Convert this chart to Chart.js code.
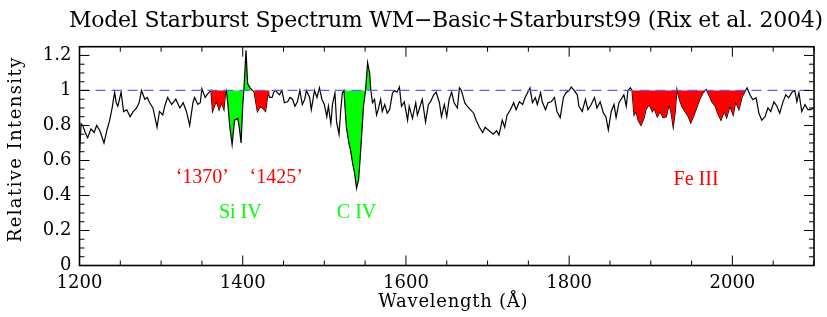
<!DOCTYPE html>
<html>
<head>
<meta charset="utf-8">
<script src="https://cdn.jsdelivr.net/npm/chart.js@4.4.1/dist/chart.umd.min.js"></script>
<style>
  html, body { margin: 0; padding: 0; background: #fff; }
  canvas { display: block; }
</style>
</head>
<body>
<canvas id="spec" width="827" height="317"></canvas>
<script>
// axis ranges + labelled ticks
const xMin = 1200, xMax = 2100;
const yMin = 0, yMax = 1.25;
const xTickLabels = [1200, 1400, 1600, 1800, 2000];
const yTickLabels = [0, 0.2, 0.4, 0.6, 0.8, 1, 1.2];
const continuumLevel = 1;

// spectrum: wavelength (Å) and relative intensity
const wavelength = [
  1200, 1202, 1204, 1207, 1210, 1214, 1218, 1221, 1225, 1230,
  1234, 1237, 1240, 1243, 1245, 1247, 1251, 1254, 1258, 1262,
  1266, 1270, 1273, 1276, 1280, 1283, 1286, 1290, 1295, 1298,
  1302, 1305, 1308, 1313, 1318, 1323, 1327, 1331, 1335, 1339,
  1341, 1345, 1348, 1350, 1354, 1357, 1361, 1363, 1366, 1368,
  1371, 1374, 1377, 1379, 1380, 1382, 1384, 1387, 1390, 1394,
  1396, 1398, 1400, 1402, 1404, 1406, 1409, 1412, 1414, 1416,
  1418, 1422, 1424, 1426, 1428, 1431, 1433, 1436, 1438, 1440,
  1443, 1445, 1448, 1451, 1455, 1458, 1461, 1464, 1467, 1470,
  1473, 1476, 1478, 1482, 1484, 1488, 1491, 1494, 1497, 1500,
  1503, 1505, 1508, 1510, 1513, 1515, 1518, 1520, 1522, 1524,
  1525, 1527, 1530, 1532, 1535, 1537, 1539.5, 1542, 1544, 1546,
  1548, 1550.5, 1553, 1555.5, 1557, 1559, 1561.5, 1564, 1566, 1569,
  1571, 1574, 1577, 1580, 1583.5, 1586, 1589, 1592, 1594.5, 1598,
  1602, 1604, 1608, 1612, 1614, 1618, 1620, 1624, 1627.5, 1630,
  1634, 1637, 1641, 1643.5, 1647, 1650, 1653, 1656, 1659, 1663,
  1665.5, 1668, 1672, 1675, 1679, 1683, 1686, 1690, 1694, 1697,
  1702, 1707, 1711, 1714, 1718, 1721, 1724, 1728, 1732, 1735,
  1739, 1743, 1746, 1749, 1752, 1755, 1758.5, 1761, 1765, 1767,
  1771, 1774, 1778, 1782, 1785, 1789, 1793, 1796, 1800, 1802.5,
  1806, 1810, 1812, 1816, 1820, 1823, 1827, 1831, 1834, 1838,
  1842, 1845, 1848, 1851.5, 1855, 1857.5, 1861, 1865, 1867, 1870,
  1872, 1875, 1877, 1879.5, 1882, 1884.5, 1888, 1892, 1894, 1898,
  1902, 1904, 1908, 1911.5, 1915, 1919, 1922.5, 1925, 1927.5, 1930,
  1932, 1935, 1938, 1942, 1946, 1949, 1953, 1957, 1960, 1964,
  1968, 1971, 1975, 1979, 1982, 1986, 1990, 1993, 1997, 2001,
  2004, 2008, 2012, 2015, 2018, 2021.5, 2025, 2029, 2032.5, 2036,
  2040, 2043.5, 2047, 2051, 2054.5, 2058, 2062, 2065.5, 2069, 2073,
  2076.5, 2079, 2081.5, 2085, 2089, 2092.5, 2096, 2099
];
const intensity = [
  0.64, 0.81, 0.80, 0.76, 0.73, 0.78, 0.76, 0.80, 0.77, 0.70,
  0.78, 0.83, 0.90, 0.99, 0.93, 0.91, 0.99, 0.88, 0.89, 0.85,
  0.88, 0.90, 0.93, 1.00, 0.95, 0.96, 0.93, 0.90, 0.79, 0.88,
  0.86, 0.92, 0.96, 0.92, 0.95, 0.90, 0.93, 0.88, 0.80, 0.93,
  0.96, 0.92, 0.93, 1.01, 0.96, 0.98, 1.00, 0.88, 0.92, 0.935,
  0.89, 0.93, 0.89, 0.99, 1.00, 0.91, 0.80, 0.69, 0.83, 0.84,
  0.78, 0.70, 0.91, 1.05, 1.23, 1.04, 1.015, 1.00, 0.99, 0.935,
  0.88, 0.91, 0.90, 0.89, 0.88, 0.985, 0.96, 0.96, 0.99, 1.00,
  0.985, 0.975, 1.00, 0.93, 0.935, 0.96, 0.95, 0.91, 0.935, 1.00,
  0.92, 0.95, 1.00, 0.96, 0.89, 1.00, 0.96, 1.015, 0.95, 0.92,
  0.85, 0.91, 0.81, 0.92, 0.985, 0.82, 0.75, 0.88, 0.985, 1.00,
  0.93, 0.79, 0.70, 0.66, 0.575, 0.53, 0.44, 0.49, 0.62, 0.76,
  0.91, 1.00, 1.16, 1.10, 1.00, 0.93, 0.95, 0.86, 0.89, 0.95,
  0.88, 0.92, 0.87, 0.89, 0.985, 1.00, 0.99, 1.02, 0.91, 0.935,
  0.83, 0.91, 0.84, 0.93, 0.86, 0.92, 0.95, 0.82, 0.92, 0.935,
  0.975, 0.99, 0.93, 0.85, 0.92, 0.85, 0.95, 0.99, 0.93, 0.90,
  1.015, 1.00, 0.93, 0.91, 0.89, 0.87, 0.83, 0.79, 0.76, 0.79,
  0.77, 0.75, 0.77, 0.745, 0.83, 0.79, 0.86, 0.89, 0.93, 0.89,
  0.935, 0.92, 0.96, 0.987, 1.015, 0.93, 0.96, 0.92, 0.987, 0.935,
  0.89, 0.93, 0.935, 0.96, 0.88, 0.845, 0.96, 0.987, 1.00, 1.02,
  1.00, 0.975, 0.91, 0.88, 0.95, 0.89, 0.92, 0.96, 0.90, 0.935,
  0.87, 0.85, 0.775, 0.88, 0.92, 0.845, 0.93, 0.96, 0.975, 0.91,
  1.00, 1.015, 1.00, 0.86, 0.88, 0.83, 0.80, 0.845, 0.89, 0.92,
  0.88, 0.90, 0.85, 0.88, 0.845, 0.85, 0.92, 0.87, 0.79, 0.88,
  1.005, 0.95, 0.91, 0.88, 0.85, 0.815, 0.86, 0.91, 0.95, 0.987,
  1.005, 0.975, 0.935, 0.91, 0.87, 0.83, 0.88, 0.845, 0.91, 0.86,
  0.935, 0.89, 0.964, 0.99, 1.015, 0.975, 0.947, 0.958, 0.87, 0.83,
  0.85, 0.90, 0.88, 0.935, 0.91, 0.87, 0.935, 0.975, 0.958, 0.99,
  1.00, 0.935, 0.987, 0.88, 0.92, 0.89, 0.89, 0.90
];

// shaded wavelength windows (filled between spectrum and continuum)
const redBands = [[1361, 1380], [1413, 1434], [1877, 2016]];
const greenBands = [[1380, 1412], [1524, 1557]];

// feature labels, placed in data coordinates
const featureNames = ['\u20181370\u2019', '\u20181425\u2019', 'Si IV', 'C IV', 'Fe III'];
const featureX = [1350.5, 1441, 1397, 1539.5, 1955.5];
const featureY = [0.50, 0.50, 0.30, 0.30, 0.49];
const featureGroup = ['red', 'red', 'green', 'green', 'red'];

if (wavelength.length !== intensity.length) console.warn('length mismatch', wavelength.length, intensity.length);

const RED = '#ff0000';
const GREEN = '#00ff00';
const groupColor = { red: RED, green: GREEN };

const spectrum = wavelength.map((w, i) => ({ x: w, y: intensity[i] }));
const inBand = band => spectrum.filter(p => p.x >= band[0] && p.x <= band[1]);

// red windows sit over the black trace, green ones under it (as in the original)
const bandSet = (band, color, order) => ({
    data: inBand(band),
    backgroundColor: color,
    borderColor: 'rgba(0,0,0,0)',
    borderWidth: 1,
    pointRadius: 0,
    fill: { value: continuumLevel },
    order
});

const datasets = [
    { label: 'continuum', data: [{ x: xMin, y: continuumLevel }, { x: xMax, y: continuumLevel }],
      borderColor: '#5c5cff', borderWidth: 1.2, borderDash: [10, 6], pointRadius: 0, fill: false, order: -2 },
    ...redBands.map(b => bandSet(b, RED, -1)),
    { label: 'spectrum', data: spectrum, borderColor: '#000', borderWidth: 1.2,
      pointRadius: 0, fill: false, tension: 0, order: 0 },
    ...greenBands.map(b => bandSet(b, GREEN, 1))
];

// text stretched to a given width (the original font is wider than anything installed)
function fitText(ctx, text, cx, cy, width) {
    ctx.letterSpacing = '0px';
    const w = ctx.measureText(text).width;
    const extra = (width - w) / text.length;
    ctx.letterSpacing = extra + 'px';
    ctx.fillText(text, cx + extra / 2, cy);
    ctx.letterSpacing = '0px';
}

// box frame with inward ticks on all four sides
const frameAndTicks = {
    id: 'frameAndTicks',
    afterDatasetsDraw(chart) {
        const { ctx, chartArea: a, scales: { x, y } } = chart;
        ctx.save();
        ctx.strokeStyle = '#000';
        ctx.lineWidth = 1;
        ctx.beginPath();
        for (let v = xMin; v <= xMax; v += 50) {
            const px = x.getPixelForValue(v);
            const len = v % 200 === 0 ? 10 : 5;
            ctx.moveTo(px, a.bottom); ctx.lineTo(px, a.bottom - len);
            ctx.moveTo(px, a.top); ctx.lineTo(px, a.top + len);
        }
        for (let k = 0; k * 0.05 <= yMax + 1e-9; k++) {
            const py = y.getPixelForValue(k * 0.05);
            const len = k % 4 === 0 ? 10 : 5;
            ctx.moveTo(a.left, py); ctx.lineTo(a.left + len, py);
            ctx.moveTo(a.right, py); ctx.lineTo(a.right - len, py);
        }
        ctx.stroke();
        ctx.lineWidth = 1.6;
        ctx.strokeRect(a.left, a.top, a.right - a.left, a.bottom - a.top);
        ctx.restore();
    }
};

const textLayer = {
    id: 'textLayer',
    afterDraw(chart) {
        const { ctx, scales: { x, y } } = chart;
        ctx.save();
        ctx.fillStyle = '#000';
        ctx.textAlign = 'center';

        ctx.font = '22px "DejaVu Serif"';
        ctx.textBaseline = 'alphabetic';
        fitText(ctx, 'Model Starburst Spectrum WM\u2212Basic+Starburst99 (Rix et al. 2004)', 446, 27, 754);

        ctx.font = '18px "DejaVu Serif"';
        ctx.textBaseline = 'middle';
        fitText(ctx, 'Wavelength (\u00c5)', 453, 302, 150);

        ctx.save();
        ctx.translate(16, 150);
        ctx.rotate(-Math.PI / 2);
        fitText(ctx, 'Relative Intensity', 0, 0, 186);
        ctx.restore();

        ctx.font = '20px "Liberation Serif"';
        featureNames.forEach((name, i) => {
            ctx.fillStyle = groupColor[featureGroup[i]];
            ctx.fillText(name, x.getPixelForValue(featureX[i]), y.getPixelForValue(featureY[i]));
        });
        ctx.restore();
    }
};

const tickFont = { family: 'DejaVu Serif', size: 18 };

new Chart(document.getElementById('spec'), {
    type: 'line',
    data: { datasets },
    options: {
        responsive: false,
        animation: false,
        events: [],
        layout: { padding: { top: 46.7, right: 13, left: 0, bottom: 0 } },
        plugins: {
            legend: { display: false },
            tooltip: { enabled: false },
            title: { display: false }
        },
        scales: {
            x: {
                type: 'linear', min: xMin, max: xMax,
                afterBuildTicks: s => { s.ticks = xTickLabels.map(v => ({ value: v })); },
                afterFit: s => { s.height = 51.5; },
                grid: { display: false, drawTicks: false },
                border: { display: false },
                ticks: { font: tickFont, color: '#000', padding: 7, maxRotation: 0, autoSkip: false,
                         callback: v => String(v) }
            },
            y: {
                type: 'linear', min: yMin, max: yMax,
                afterBuildTicks: s => { s.ticks = yTickLabels.map(v => ({ value: v })); },
                afterFit: s => { s.width = 79.5; },
                grid: { display: false, drawTicks: false },
                border: { display: false },
                ticks: { font: tickFont, color: '#000', padding: 8, autoSkip: false,
                         callback: v => String(v) }
            }
        }
    },
    plugins: [frameAndTicks, textLayer]
});
</script>
</body>
</html>
